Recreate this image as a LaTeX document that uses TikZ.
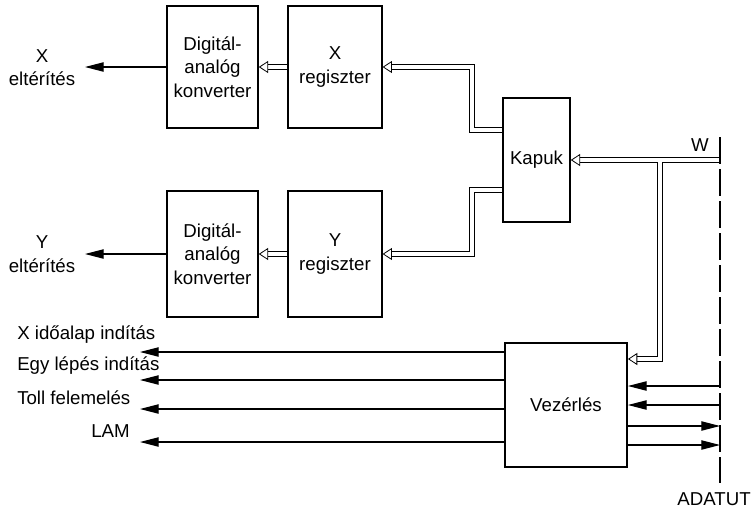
\documentclass[tikz,border=0pt]{standalone}
\usepackage{fontspec}
\setmainfont{Liberation Sans}
\usetikzlibrary{arrows.meta}

\begin{document}
\begin{tikzpicture}[
  x=0.75pt, y=-0.75pt,
  every node/.style={font=\fontsize{14}{17.5}\selectfont},
  box/.style={draw,line width=1.4pt,inner sep=0pt,align=center},
  bus/.style={double,double distance=2.6pt,line width=0.6pt,
    -{Triangle[open,length=7pt,width=9pt]}},
  sig/.style={line width=0.8pt,-{Triangle[length=14pt,width=7pt]}},
  lbl/.style={anchor=west,inner sep=0pt}
]
\useasboundingbox (0,0) rectangle (753,511);

% blocks
\node[box,minimum width=68pt,minimum height=92pt] (dacx) at (212.5,67) {Digitál-\\analóg\\konverter};
\node[box,minimum width=70pt,minimum height=92pt] (regx) at (335,67) {X\\regiszter};
\node[box,minimum width=68pt,minimum height=95pt] (dacy) at (212.5,254) {Digitál-\\analóg\\konverter};
\node[box,minimum width=70pt,minimum height=95pt] (regy) at (335,254) {Y\\regiszter};
\node[box,minimum width=50pt,minimum height=93pt] (kapuk) at (536.5,160) {Kapuk};
\node[box,minimum width=91.5pt,minimum height=93pt] (vez) at (566,405) {Vezérlés};

% free ends
\coordinate (xout) at (85,67);
\coordinate (yout) at (85,254);
\coordinate (wtop) at (720,137);
\coordinate (wbot) at (720,483);
\coordinate (win) at (720,160);
\coordinate (wfork) at (660,162);

% deflection outputs
\node[align=center] (xlab) at (42,68) {X\\eltérítés};
\node[align=center] (ylab) at (42,254) {Y\\eltérítés};
\draw[sig] (dacx) -- (xout);
\draw[sig] (dacy) -- (yout);

% registers and gates
\draw[bus] (regx) -- (dacx);
\draw[bus] (regy) -- (dacy);
\draw[bus] (kapuk.west |- 0,130) -| (472,67) -- (regx.east);
\draw[bus] (kapuk.west |- 0,190) -| (472,254) -- (regy.east);
\draw[bus] (win) -- (kapuk);
\draw[bus] (wfork) |- (vez.east |- 0,359);

% data bus
\draw[line width=0.8pt,dash pattern=on 20pt off 4pt] (wtop) -- (wbot);
\node (w) at (700,145) {W};
\node[anchor=east,inner sep=0pt] (adatut) at (751,499) {ADATUT};
\foreach \y in {386,405}
  \draw[sig] (wbot |- 0,\y) -- (vez.east |- 0,\y);
\foreach \y in {426,445}
  \draw[sig] (vez.east |- 0,\y) -- (wbot |- 0,\y);

% control outputs
\foreach \y/\n in {352/a,380/b,409/c,442/d}{
  \coordinate (out\n) at (140,\y);
  \draw[sig] (vez.west |- out\n) -- (out\n);
}
\node[lbl] (la) at (17,335) {X időalap indítás};
\node[lbl] (lb) at (17,366) {Egy lépés indítás};
\node[lbl] (lc) at (17,398) {Toll felemelés};
\node[lbl] (ld) at (91,431) {LAM};
\end{tikzpicture}
\end{document}
